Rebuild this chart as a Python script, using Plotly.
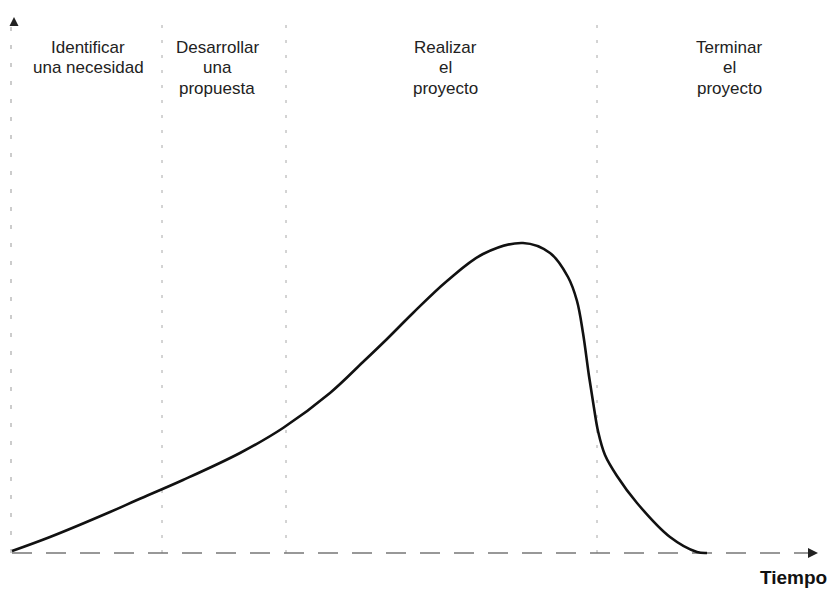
import plotly.graph_objects as go

# Curve: time (px-like units) vs level (units above baseline)
time = [12, 50, 110, 137, 183, 240, 283, 330, 363, 387, 413, 447, 483, 523,
        550, 568, 577, 583, 589, 594, 598, 605, 617, 637, 670, 697, 707]
level = [2, 16, 41, 53, 73, 100, 125, 160, 191, 214, 240, 272, 299, 310,
         300, 276, 252, 220, 177, 145, 122, 98, 77, 50, 16, 1, 0]

phase_bounds = [162, 286, 597]
phase_centers = [88, 217, 445, 729]
phase_lines = [["Identificar", "una necesidad"],
               ["Desarrollar", "una", "propuesta"],
               ["Realizar", "el", "proyecto"],
               ["Terminar", "el", "proyecto"]]
line_levels = [506, 486, 465]
axis_x_start, axis_x_end = 12, 812
axis_y_top = 530

fig = go.Figure()

# phase boundaries
for xb in phase_bounds:
    fig.add_trace(go.Scatter(x=[xb, xb], y=[0, 535], mode="lines",
                             line=dict(color="#a8a8a8", width=1, dash="3px,12px"),
                             showlegend=False, hoverinfo="skip"))
# y axis
fig.add_trace(go.Scatter(x=[11, 11], y=[0, axis_y_top], mode="lines",
                         line=dict(color="#999999", width=1, dash="4px,14px"),
                         showlegend=False, hoverinfo="skip"))
fig.add_trace(go.Scatter(x=[14], y=[536], mode="markers",
                         marker=dict(symbol="arrow-up", size=9, color="#222"),
                         showlegend=False, hoverinfo="skip"))
# x axis
fig.add_trace(go.Scatter(x=[axis_x_start, axis_x_end], y=[0, 0], mode="lines",
                         line=dict(color="#777777", width=1.5, dash="20px,14px"),
                         showlegend=False, hoverinfo="skip"))
fig.add_trace(go.Scatter(x=[818], y=[0], mode="markers",
                         marker=dict(symbol="arrow-right", size=10, color="#222"),
                         showlegend=False, hoverinfo="skip"))
# curve
fig.add_trace(go.Scatter(x=time, y=level, mode="lines",
                         line=dict(color="#111", width=2.6, shape="spline", smoothing=1.0),
                         showlegend=False, hoverinfo="skip"))

for xc, lines in zip(phase_centers, phase_lines):
    for txt, lv in zip(lines, line_levels):
        fig.add_annotation(x=xc, y=lv, text=txt, showarrow=False,
                           xanchor="center", yanchor="middle",
                           font=dict(family="Liberation Sans, Arial", size=17, color="#222"))

fig.add_annotation(x=793, y=-24, text="<b>Tiempo</b>", showarrow=False,
                   xanchor="center", yanchor="middle",
                   font=dict(family="Liberation Sans, Arial", size=19, color="#111"))

# page body has an 8px margin, so the plot area starts at page pixel 8
fig.update_layout(
    width=827, height=587,
    margin=dict(l=0, r=0, t=0, b=0),
    paper_bgcolor="white", plot_bgcolor="white",
    xaxis=dict(range=[8, 835], visible=False, fixedrange=True),
    yaxis=dict(range=[-42, 545], visible=False, fixedrange=True),
    showlegend=False,
)

fig.write_html("out.html")
